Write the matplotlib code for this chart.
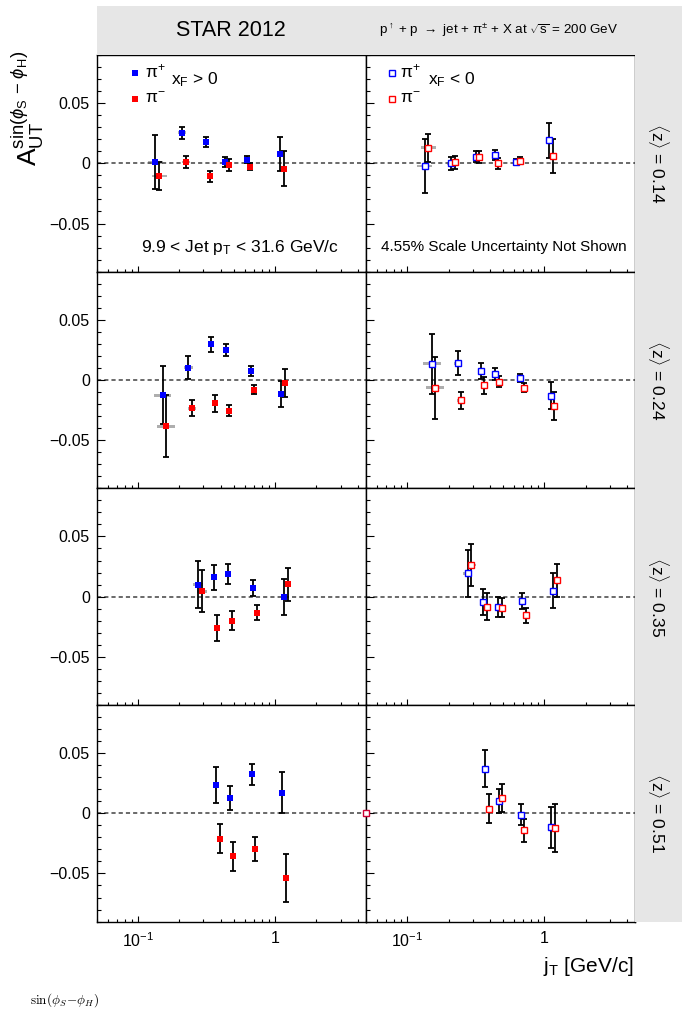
import matplotlib
matplotlib.use('Agg')
import matplotlib.pyplot as plt
from matplotlib.patches import Rectangle
from matplotlib.ticker import MultipleLocator, LogLocator, NullFormatter

plt.rcParams['font.family'] = ['Liberation Sans', 'DejaVu Sans']
plt.rcParams['mathtext.fontset'] = 'custom'
plt.rcParams['mathtext.rm'] = 'Liberation Sans'
plt.rcParams['mathtext.it'] = 'Liberation Sans:italic'
plt.rcParams['mathtext.bf'] = 'Liberation Sans:bold'
plt.rcParams['mathtext.sf'] = 'Liberation Sans'
plt.rcParams['lines.scale_dashes'] = False

# ---------------- data ----------------
Z_LABELS = ['0.14', '0.24', '0.35', '0.51']

# jT bin centres (GeV/c), one list per <z> row
JT_PIP = [[0.134, 0.210, 0.315, 0.433, 0.620, 1.088],
          [0.151, 0.2335, 0.342, 0.436, 0.667, 1.11],
          [0.275, 0.356, 0.457, 0.690, 1.158],
          [0.370, 0.466, 0.675, 1.125]]
JT_PIM = [[0.1425, 0.223, 0.336, 0.458, 0.660, 1.155],
          [0.160, 0.248, 0.363, 0.4635, 0.706, 1.18],
          [0.293, 0.3785, 0.4875, 0.732, 1.235],
          [0.394, 0.493, 0.714, 1.20]]

# xF > 0
AUT_PIP_FWD = [[0.0008, 0.0254, 0.0177, 0.0010, 0.0030, 0.0077],
               [-0.0127, 0.0102, 0.0296, 0.0249, 0.0075, -0.0116],
               [0.0100, 0.0160, 0.0188, 0.0072, -0.0003],
               [0.0238, 0.0127, 0.0323, 0.0169]]
ERR_PIP_FWD = [[0.0224, 0.0050, 0.0043, 0.0039, 0.0028, 0.0138],
               [0.0240, 0.0098, 0.0065, 0.0051, 0.0039, 0.0109],
               [0.0195, 0.0106, 0.0084, 0.0065, 0.0148],
               [0.0149, 0.0098, 0.0090, 0.0170]]
AUT_PIM_FWD = [[-0.0105, 0.0011, -0.0108, -0.0014, -0.0028, -0.0045],
               [-0.0384, -0.0235, -0.0193, -0.0254, -0.0080, -0.0022],
               [0.0044, -0.0263, -0.0199, -0.0135, 0.0102],
               [-0.0210, -0.0359, -0.0296, -0.0539]]
ERR_PIM_FWD = [[0.0116, 0.0052, 0.0044, 0.0048, 0.0028, 0.0145],
               [0.0256, 0.0068, 0.0070, 0.0048, 0.0037, 0.0117],
               [0.0175, 0.0108, 0.0082, 0.0062, 0.0138],
               [0.0117, 0.0119, 0.0097, 0.0202]]

# xF < 0
AUT_PIP_BWD = [[-0.0022, 0.0000, 0.0055, 0.0069, 0.0011, 0.0193],
               [0.0135, 0.0138, 0.0072, 0.0047, 0.0017, -0.0130],
               [0.0193, -0.0044, -0.0083, -0.0036, 0.0050],
               [0.0370, 0.0102, -0.0011, -0.0116]]
ERR_PIP_BWD = [[0.0224, 0.0052, 0.0047, 0.0041, 0.0028, 0.0146],
               [0.0249, 0.0100, 0.0066, 0.0050, 0.0036, 0.0112],
               [0.0193, 0.0106, 0.0084, 0.0064, 0.0144],
               [0.0152, 0.0101, 0.0090, 0.0170]]
AUT_PIM_BWD = [[0.0130, 0.0008, 0.0052, 0.0000, 0.0022, 0.0063],
               [-0.0066, -0.0169, -0.0044, -0.0014, -0.0064, -0.0216],
               [0.0263, -0.0083, -0.0091, -0.0155, 0.0135],
               [0.0036, 0.0127, -0.0141, -0.0124]]
ERR_PIM_BWD = [[0.0116, 0.0051, 0.0047, 0.0047, 0.0029, 0.0142],
               [0.0260, 0.0068, 0.0069, 0.0047, 0.0037, 0.0116],
               [0.0174, 0.0109, 0.0082, 0.0062, 0.0138],
               [0.0120, 0.0119, 0.0095, 0.0200]]

# systematic boxes: half width in log10(jT), per row and bin
SYS_LOGHW = [[0.055, 0.03, 0.02, 0.015, 0.012, 0.01],
             [0.065, 0.03, 0.02, 0.015, 0.012, 0.01],
             [0.035, 0.02, 0.015, 0.012, 0.01],
             [0.02, 0.015, 0.012, 0.01]]
SYS_AUT = 0.0012

# stray point drawn at the axis edge in the last panel
STRAY_JT = [0.05]
STRAY_AUT = [0.0]

XTICKS = [0.1, 1.0]
XTICKLABELS = ['10$^{-1}$', '1']
YTICKS = [-0.05, 0.0, 0.05]
YTICKLABELS = ['\u22120.05', '0', '0.05']

# ---------------- layout ----------------
W, H = 688, 1010
fig = plt.figure(figsize=(W / 100, H / 100), dpi=100)
GRAY = '#e6e6e6'
BLUE = '#0000ff'
RED = '#ff0000'

col_left = [96.7, 366.0]
col_w = 269.3
row_top = 55.0
row_h = 216.65

# gray header and side strip
fig.patches.append(Rectangle((97 / W, 1 - 55 / H), (682 - 97) / W, 49 / H,
                             transform=fig.transFigure, facecolor=GRAY,
                             edgecolor='none', zorder=0))
fig.patches.append(Rectangle((635.3 / W, 1 - (row_top + 4 * row_h) / H),
                             (682 - 635.3) / W, 4 * row_h / H,
                             transform=fig.transFigure, facecolor=GRAY,
                             edgecolor='none', zorder=0))


def draw_series(ax, xs, ys, es, hw, color, filled):
    for x, y, h in zip(xs, ys, hw):
        lo, hi = x * 10 ** (-h), x * 10 ** h
        ax.add_patch(Rectangle((lo, y - SYS_AUT), hi - lo, 2 * SYS_AUT,
                               facecolor='#9a9a9a', edgecolor='none',
                               alpha=0.8, zorder=1))
    ax.errorbar(xs, ys, yerr=es, fmt='none', ecolor='black',
                elinewidth=1.3, capsize=2.2, capthick=1.3, zorder=2)
    if filled:
        ax.plot(xs, ys, 's', ms=4.5, mfc=color, mec=color, mew=0, zorder=3)
    else:
        ax.plot(xs, ys, 's', ms=4.0, mfc='white', mec=color, mew=1.0,
                zorder=3)


axes = []
for r in range(4):
    for c in range(2):
        rect = [col_left[c] / W, 1 - (row_top + (r + 1) * row_h) / H,
                col_w / W, row_h / H]
        ax = fig.add_axes(rect)
        ax.set_xscale('log')
        ax.set_xlim(0.05, 4.6)
        ax.set_ylim(-0.09, 0.09)
        ax.axhline(0, color='#505050', lw=1.2, ls=(0, (3.0, 2.2)), zorder=1.5)
        hw = SYS_LOGHW[r]
        if c == 0:
            draw_series(ax, JT_PIP[r], AUT_PIP_FWD[r], ERR_PIP_FWD[r], hw, BLUE, True)
            draw_series(ax, JT_PIM[r], AUT_PIM_FWD[r], ERR_PIM_FWD[r], hw, RED, True)
        else:
            draw_series(ax, JT_PIP[r], AUT_PIP_BWD[r], ERR_PIP_BWD[r], hw, BLUE, False)
            draw_series(ax, JT_PIM[r], AUT_PIM_BWD[r], ERR_PIM_BWD[r], hw, RED, False)
            if r == 3:
                ax.plot(STRAY_JT, STRAY_AUT, 's', ms=4.0, mfc='white',
                        mec='#cc0033', mew=1.0, zorder=5, clip_on=False)
        # ticks
        ax.set_xticks(XTICKS)
        ax.xaxis.set_minor_locator(LogLocator(base=10, subs=range(2, 10)))
        ax.xaxis.set_minor_formatter(NullFormatter())
        if r == 3:
            ax.set_xticklabels(XTICKLABELS)
        else:
            ax.set_xticklabels([])
        ax.set_yticks(YTICKS)
        ax.yaxis.set_minor_locator(MultipleLocator(0.01))
        if c == 0:
            ax.set_yticklabels(YTICKLABELS)
        else:
            ax.set_yticklabels([])
        ax.tick_params(axis='x', which='major', direction='in', length=4.0,
                       width=0.8, top=False, labelsize=11.5, pad=7)
        ax.tick_params(axis='x', which='minor', direction='in', length=2.4,
                       width=0.8, top=False)
        ax.tick_params(axis='y', which='major', direction='in', length=6.0,
                       width=0.8, right=False, labelsize=11.5, pad=5)
        ax.tick_params(axis='y', which='minor', direction='in', length=3.2,
                       width=0.8, right=False)
        for s in ax.spines.values():
            s.set_linewidth(1.0)
        axes.append(ax)

# legends / annotations
ax0 = axes[0]
ax0.plot([0.142], [0.9155], 's', ms=4.5, color=BLUE, mew=0,
         transform=ax0.transAxes, clip_on=False)
ax0.plot([0.142], [0.797], 's', ms=4.5, color=RED, mew=0,
         transform=ax0.transAxes, clip_on=False)
ax0.text(0.179, 0.897, '\u03c0$^{+}$', transform=ax0.transAxes, fontsize=12.5,
         va='baseline')
ax0.text(0.179, 0.777, '\u03c0$^{-}$', transform=ax0.transAxes, fontsize=12.5,
         va='baseline')
ax0.text(0.2775, 0.864, 'x$_{\\mathrm{F}}$ > 0', transform=ax0.transAxes,
         fontsize=12.5, va='baseline')
ax0.text(0.166, 0.092, '9.9 < Jet p$_{\\mathrm{T}}$ < 31.6 GeV/c',
         transform=ax0.transAxes, fontsize=12.5, va='baseline')

ax1 = axes[1]
ax1.plot([0.0954], [0.9155], 's', ms=4.0, mfc='white', mec=BLUE, mew=1.0,
         transform=ax1.transAxes, clip_on=False)
ax1.plot([0.0954], [0.797], 's', ms=4.0, mfc='white', mec=RED, mew=1.0,
         transform=ax1.transAxes, clip_on=False)
ax1.text(0.126, 0.897, '\u03c0$^{+}$', transform=ax1.transAxes, fontsize=12.5,
         va='baseline')
ax1.text(0.126, 0.777, '\u03c0$^{-}$', transform=ax1.transAxes, fontsize=12.5,
         va='baseline')
ax1.text(0.231, 0.864, 'x$_{\\mathrm{F}}$ < 0', transform=ax1.transAxes,
         fontsize=12.5, va='baseline')
ax1.text(0.0546, 0.095, '4.55% Scale Uncertainty Not Shown',
         transform=ax1.transAxes, fontsize=11, va='baseline')

# header texts
fig.text(231 / W, 1 - 31 / H, 'STAR 2012', fontsize=15.5, ha='center',
         va='center')
fig.text(498 / W, 1 - 30 / H,
         'p$^{\\uparrow}$ + p $\\rightarrow$ jet + \u03c0$^{\\pm}$ + X at '
         '$\\sqrt{\\mathrm{s}}$ = 200 GeV',
         fontsize=9.6, ha='center', va='center')

# z labels on the right strip
for r, zl in enumerate(Z_LABELS):
    yc = row_top + (r + 0.5) * row_h
    fig.text(658.5 / W, 1 - yc / H,
             '$\\langle\\mathrm{z}\\rangle$ = ' + zl, fontsize=12.5,
             rotation=-90, ha='center', va='center')

# axis titles
fig.text(28 / W, 1 - 108 / H,
         '$\\mathrm{A}_{\\mathrm{UT}}^{\\mathrm{sin}(\\phi_{\\mathrm{S}}\\ \\mathrm{-}\\ \\phi_{\\mathrm{H}})}$',
         fontsize=19, rotation=90, ha='center', va='center')
fig.text(634 / W, 1 - 972 / H, 'j$_{\\mathrm{T}}$ [GeV/c]', fontsize=15,
         ha='right', va='baseline')

# caption fragment at the bottom edge
fig.text(30 / W, 1 - 1004 / H, '$\\sin(\\phi_S\\!-\\!\\phi_H)$', fontsize=9.5,
         math_fontfamily='cm', ha='left', va='baseline')

fig.savefig('out.png', dpi=100)
